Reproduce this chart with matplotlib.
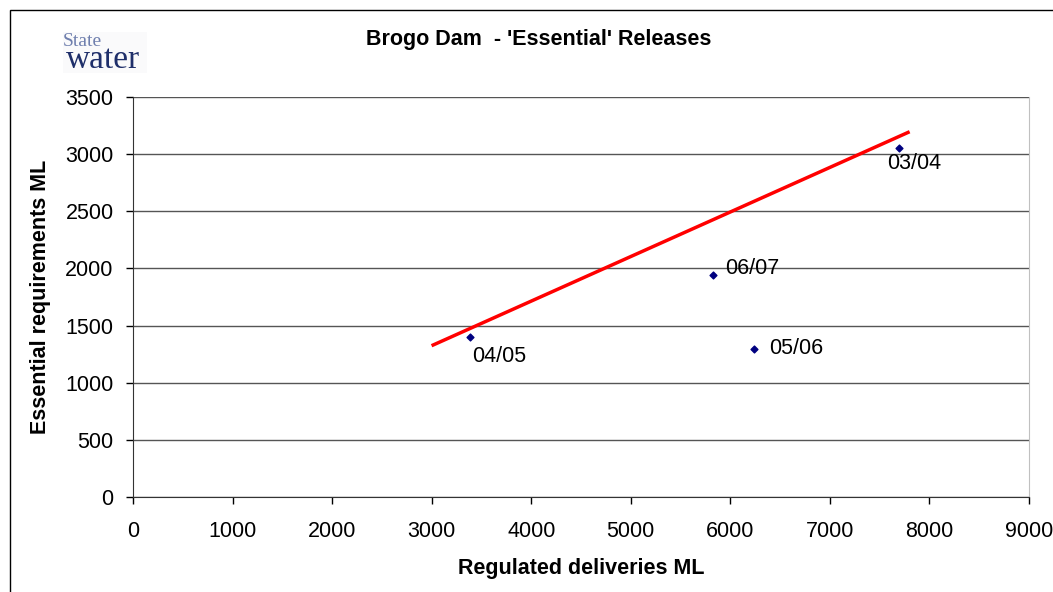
import matplotlib.pyplot as plt
from matplotlib.patches import Rectangle

plt.rcParams['font.family'] = ['Liberation Sans', 'DejaVu Sans']

# seasonal totals (ML)
seasons = ['03/04', '06/07', '05/06', '04/05']
deliveries = [7690, 5825, 6235, 3385]
essential = [3050, 1940, 1295, 1400]

# hand fitted trend line
trend_x = [3015, 7785]
trend_y = [1330, 3190]

# label offsets in pixels (dx, dy)
label_offsets = {'03/04': (-11, -15), '06/07': (12, 7), '05/06': (15, 0), '04/05': (2, -20)}

fig = plt.figure(figsize=(10.53, 5.92), dpi=100)
ax = fig.add_axes([133 / 1053, 1 - 497 / 592, 896 / 1053, 400 / 592])

ax.plot(trend_x, trend_y, color='#ff0000', linewidth=2.5, zorder=3)
ax.scatter(deliveries, essential, marker='D', s=12, color='#000080', zorder=4)
for s, x, y in zip(seasons, deliveries, essential):
    dx, dy = label_offsets[s]
    ax.annotate(s, (x, y), xytext=(dx, dy), textcoords='offset pixels',
                ha='left', va='center', fontsize=15.5)

ax.set_xlim(0, 9000)
ax.set_ylim(0, 3500)
ax.set_xticks(range(0, 9001, 1000))
ax.set_yticks(range(0, 3501, 500))
ax.tick_params(labelsize=15.5, direction='out', length=5, width=1)
ax.tick_params(axis='y', pad=9)
ax.tick_params(axis='x', pad=12)
ax.yaxis.grid(True, color='#555555', linewidth=1)
ax.set_axisbelow(True)
ax.spines['top'].set_visible(False)
ax.spines['right'].set_color('#c0c0c0')
ax.spines['left'].set_color('#333333')
ax.spines['bottom'].set_color('#333333')

ax.set_xlabel('Regulated deliveries ML', fontsize=15.5, fontweight='bold', labelpad=12)
ax.set_ylabel('Essential requirements ML', fontsize=15.5, fontweight='bold', labelpad=10)

fig.text(539 / 1053, 1 - 40 / 592, "Brogo Dam  - 'Essential' Releases",
         ha='center', va='center', fontsize=15.5, fontweight='bold')

# logo on its faint backing
fig.patches.append(Rectangle((63 / 1053, 1 - 73 / 592), 84 / 1053, 41 / 592,
                             transform=fig.transFigure, facecolor='#fafafb',
                             edgecolor='none'))
fig.text(63 / 1053, 1 - 42 / 592, 'State', family='Liberation Serif',
         fontsize=14, color='#6f7fae', ha='left', va='center')
fig.text(66 / 1053, 1 - 60 / 592, 'water', family='Liberation Serif',
         fontsize=24, color='#1f2f6a', ha='left', va='center')

# chart frame
fig.patches.append(Rectangle((9.5 / 1053, -0.1), 1.2, 1 - 9.5 / 592 + 0.1,
                             transform=fig.transFigure, fill=False,
                             edgecolor='black', linewidth=1))

fig.savefig('out.png', dpi=100)
